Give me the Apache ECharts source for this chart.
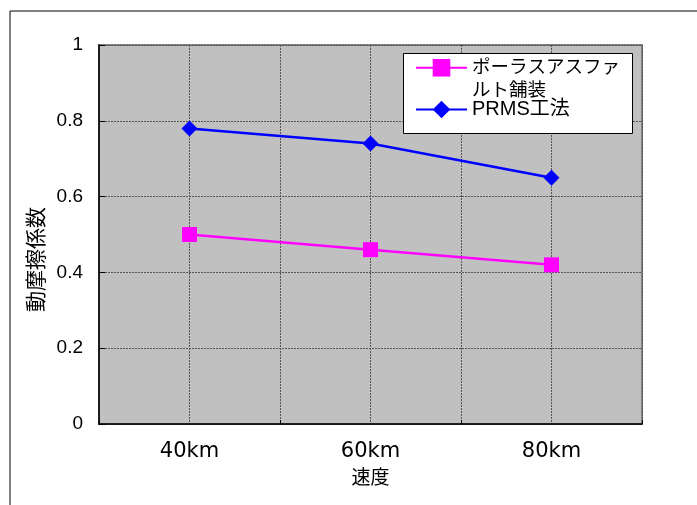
<!DOCTYPE html>
<html>
<head>
<meta charset="utf-8">
<script src="https://cdn.jsdelivr.net/npm/echarts@6/dist/echarts.min.js"></script>
<style>html,body{margin:0;padding:0;background:#fff}#c{width:697px;height:505px}</style>
</head>
<body>
<div id="c"></div>
<script>
const categories = ['40km', '60km', '80km'];
const porousValues = [0.50, 0.46, 0.42];
const prmsValues = [0.78, 0.74, 0.65];
const seriesNames = ['ポーラスアスファルト舗装', 'PRMS工法'];
const yTicks = { min: 0, max: 1, interval: 0.2 };
const xAxisTitle = '速度';
const yAxisTitle = '動摩擦係数';

const chart = echarts.init(document.getElementById('c'), null, { renderer: 'canvas' });
const legendFont = 'Liberation Sans, Noto Sans CJK JP, sans-serif';
chart.setOption({
  animation: false,
  backgroundColor: '#fff',
  grid: {
    left: 99, right: 55, top: 45, bottom: 81,
    show: true, backgroundColor: '#c0c0c0', borderColor: '#808080', borderWidth: 2
  },
  graphic: [
    { type: 'rect', left: 7.5, top: 8.5, z: 0, silent: true,
      shape: { width: 720, height: 520 }, style: { fill: 'none', stroke: '#000', lineWidth: 1 } },
    { type: 'rect', left: 403, top: 53, z: 5, silent: true,
      shape: { width: 229, height: 80 }, style: { fill: '#fff', stroke: '#000', lineWidth: 1 } }
  ],
  legend: [
    { data: [seriesNames[0]], orient: 'vertical', left: 415, top: 32.5, padding: 0, z: 10,
      itemWidth: 51, itemHeight: 22, selectedMode: false,
      formatter: n => '\n' + n.slice(0, 8) + '\n' + n.slice(8),
      textStyle: { fontSize: 18.5, fontFamily: legendFont, color: '#000', lineHeight: 23.5 } },
    { data: [seriesNames[1]], orient: 'vertical', left: 415, top: 98, padding: 0, z: 10,
      itemWidth: 51, itemHeight: 22, selectedMode: false,
      textStyle: { fontSize: 20, fontFamily: legendFont, color: '#000', lineHeight: 23 } }
  ],
  xAxis: [
    { type: 'category', data: categories, boundaryGap: true,
      axisLine: { show: true, lineStyle: { color: '#000', width: 1.5 } },
      axisTick: { show: true, inside: true, length: 4, lineStyle: { color: '#000' } },
      axisLabel: { fontSize: 21, fontFamily: 'DejaVu Sans', color: '#000', margin: 17 },
      splitLine: { show: false },
      name: xAxisTitle, nameLocation: 'middle', nameGap: 36,
      nameTextStyle: { fontSize: 19, fontFamily: 'Noto Sans CJK JP', color: '#000' } },
    { type: 'value', min: 0, max: 6, interval: 1, position: 'top',
      axisLine: { show: false }, axisTick: { show: false }, axisLabel: { show: false },
      splitLine: { show: true, lineStyle: { color: '#555', type: [2, 1], width: 1 } } }
  ],
  yAxis: {
    type: 'value', min: yTicks.min, max: yTicks.max, interval: yTicks.interval,
    axisLine: { show: true, lineStyle: { color: '#000', width: 1.5 } },
    axisTick: { show: true, inside: true, length: 6, lineStyle: { color: '#000' } },
    axisLabel: { fontSize: 19, fontFamily: 'Liberation Sans', color: '#000', margin: 16 },
    splitLine: { show: true, lineStyle: { color: '#555', type: [2, 1], width: 1 } },
    name: yAxisTitle, nameLocation: 'middle', nameGap: 52,
    nameTextStyle: { fontSize: 21, fontFamily: 'Noto Sans CJK JP', color: '#000', padding: [0, 50, 0, 0] }
  },
  series: [
    { name: seriesNames[0], type: 'line', xAxisIndex: 0, data: porousValues,
      symbol: 'rect', symbolSize: 15, z: 3,
      lineStyle: { color: '#ff00ff', width: 2.5 }, itemStyle: { color: '#ff00ff' } },
    { name: seriesNames[1], type: 'line', xAxisIndex: 0, data: prmsValues,
      symbol: 'diamond', symbolSize: 16, z: 3,
      lineStyle: { color: '#0000ff', width: 2.5 }, itemStyle: { color: '#0000ff' } }
  ]
});
</script>
</body>
</html>
